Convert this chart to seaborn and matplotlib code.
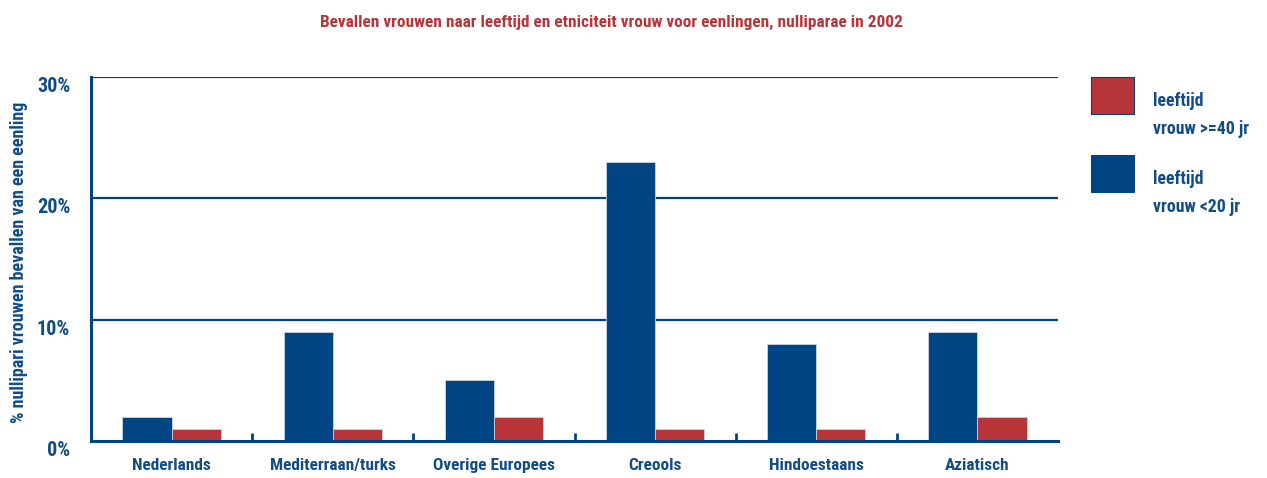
import matplotlib
matplotlib.use("Agg")
import matplotlib.pyplot as plt
from matplotlib import font_manager
from matplotlib.patches import Rectangle
import seaborn as sns
import pandas as pd

categories = ["Nederlands", "Mediterraan/turks", "Overige Europees",
              "Creools", "Hindoestaans", "Aziatisch"]
under_20 = [2, 9, 5, 23, 8, 9]
over_40 = [1, 1, 2, 1, 1, 2]
yticks = [0, 10, 20, 30]
ytick_labels = ["0%", "10%", "20%", "30%"]

BLUE = "#004583"
RED = "#B73538"
TEXT_BLUE = "#124C86"

sns.set_theme(style="white")
installed = {f.name for f in font_manager.fontManager.ttflist}
family = "DejaVu Sans"
for cand in ["Liberation Sans Narrow", "DejaVu Sans Condensed", "Roboto Condensed",
             "Open Sans Condensed", "Noto Sans Condensed"]:
    if cand in installed:
        family = cand
        break
plt.rcParams["font.family"] = [family, "DejaVu Sans"]
stretch = "condensed"

df = pd.DataFrame({
    "etniciteit": categories * 2,
    "waarde": under_20 + over_40,
    "groep": ["<20"] * len(categories) + [">=40"] * len(categories),
})

W, H = 1267, 478
fig = plt.figure(figsize=(W / 100, H / 100), dpi=100)
ax = fig.add_axes([91 / W, 1 - 441 / H, (1058 - 91) / W, (441 - 77) / H])

sns.barplot(data=df, x="etniciteit", y="waarde", hue="groep",
            hue_order=["<20", ">=40"], palette=[BLUE, RED], width=0.61,
            gap=0, edgecolor="#c9d4e4", linewidth=0.6, saturation=1,
            legend=False, ax=ax, zorder=3)

ax.set_xlim(-0.5, len(categories) - 0.5)
ax.set_ylim(0, 30)
ax.set_yticks(yticks)
ax.set_yticklabels(ytick_labels)
for y in yticks[1:]:
    ax.axhline(y, color=BLUE, lw=1.6, zorder=1)

for s in ["left", "bottom"]:
    ax.spines[s].set_color(BLUE)
    ax.spines[s].set_linewidth(2.2)
    ax.spines[s].set_zorder(5)
ax.spines["right"].set_visible(False)
ax.spines["top"].set_visible(False)

# small upward separators between groups
ax.set_xticks([i + 0.5 for i in range(len(categories) - 1)], minor=True)
ax.tick_params(axis="x", which="minor", direction="in", length=6, width=2,
               color=BLUE, bottom=True)
ax.set_xticks(range(len(categories)))
ax.set_xticklabels(categories)
ax.tick_params(axis="x", which="major", length=0, pad=12)
ax.tick_params(axis="y", length=0, pad=15)
for lab in ax.get_xticklabels():
    lab.set_fontsize(12.4)
    lab.set_fontweight("bold")
    lab.set_color(TEXT_BLUE)
    lab.set_fontstretch(stretch)
for lab in ax.get_yticklabels():
    lab.set_fontsize(14.5)
    lab.set_fontweight("bold")
    lab.set_color(TEXT_BLUE)
    lab.set_verticalalignment("top")
    lab.set_fontstretch(stretch)

ax.set_xlabel("")
ax.set_ylabel("")
fig.text(19 / W, 1 - 262 / H, "% nullipari vrouwen bevallen van een eenling",
         rotation=90, ha="center", va="center", fontsize=13,
         fontweight="bold", color=TEXT_BLUE, fontstretch=stretch)

fig.text(612 / W, 1 - 22 / H,
         "Bevallen vrouwen naar leeftijd en etniciteit vrouw voor eenlingen, nulliparae in 2002",
         ha="center", va="center", fontsize=12.4, fontweight="bold", color=RED,
         fontstretch=stretch)

# legend
legend_items = [(RED, "leeftijd\nvrouw >=40 jr", 77),
                (BLUE, "leeftijd\nvrouw <20 jr", 155)]
for color, label, top in legend_items:
    fig.add_artist(Rectangle((1091 / W, 1 - (top + 37) / H), 43 / W, 37 / H,
                             transform=fig.transFigure, facecolor=color,
                             edgecolor=BLUE, linewidth=0.8))
    fig.text(1153 / W, 1 - (top + 38) / H, label, ha="left", va="center",
             fontsize=12.8, fontweight="bold", color=TEXT_BLUE,
             linespacing=1.65, fontstretch=stretch)

fig.savefig("out.png", dpi=100)
